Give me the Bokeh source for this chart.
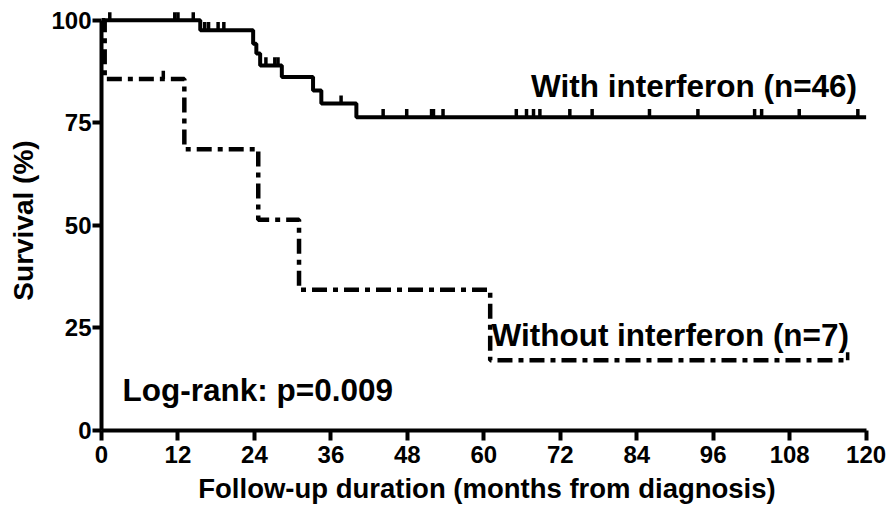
import numpy as np
from bokeh.plotting import figure
from bokeh.models import Range1d, FixedTicker
from bokeh.core.properties import value
from bokeh.embed import file_html
from bokeh.resources import INLINE

# ---- data ----
# With interferon (n=46): step times (months) and survival (%) after each event
with_t = [0, 15.5, 23.8, 24.3, 24.9, 28.3, 33.2, 34.5, 40.0, 120.0]
with_s = [100, 97.6, 94.3, 91.9, 89.0, 86.2, 82.9, 79.7, 76.4, 76.4]
with_censor = [1.3, 11.5, 12.0, 14.4, 16.2, 16.8, 18.3, 19.2, 25.8, 27.2, 27.7,
               37.6, 44.2, 47.9, 51.8, 52.1, 53.6, 65.1, 66.7, 67.8, 68.8, 73.5,
               77.0, 86.0, 93.6, 102.5, 103.6, 109.5, 118.7]

# Without interferon (n=7)
without_t = [0, 0.5, 13.0, 24.6, 31.0, 61.0, 117.1]
without_s = [100, 85.7, 68.6, 51.4, 34.3, 17.1, 17.1]
without_censor = [9.7, 117.1]

x_ticks = [0, 12, 24, 36, 48, 60, 72, 84, 96, 108, 120]
y_ticks = [0, 25, 50, 75, 100]

x_title = "Follow-up duration (months from diagnosis)"
y_title = "Survival (%)"
label_with = "With interferon (n=46)"
label_without = "Without interferon (n=7)"
label_logrank = "Log-rank: p=0.009"


def surv_at(times, surv, t):
    times = np.asarray(times)
    surv = np.asarray(surv)
    idx = np.searchsorted(times, t, side="right") - 1
    return surv[idx]


FONT = "Liberation Sans"

p = figure(width=886, height=509, output_backend="svg", toolbar_location=None,
           x_range=Range1d(0, 121), y_range=Range1d(0, 102.4),
           min_border_left=101, min_border_right=14, min_border_top=10,
           min_border_bottom=79)
p.outline_line_color = None
p.xgrid.visible = False
p.ygrid.visible = False
p.background_fill_color = "white"
p.border_fill_color = "white"

# curves
p.step(with_t, with_s, mode="after", line_color="black", line_width=4)
p.step(without_t, without_s, mode="after", line_color="black", line_width=4.5,
       line_dash="15 6 5 6")

# censor marks
wc = np.array(with_censor)
ws = surv_at(with_t, with_s, wc)
p.segment(x0=wc, y0=ws, x1=wc, y1=ws + 2.0, line_color="black", line_width=3.5)
oc = np.array(without_censor)
os_ = surv_at(without_t, without_s, oc)
p.segment(x0=oc, y0=os_, x1=oc, y1=os_ + 2.0, line_color="black", line_width=3.5)

# annotations
for tx, ty, tt in ((67.4, 84.1, label_with), (61.2, 23.2, label_without),
                   (3.3, 9.8, label_logrank)):
    p.text(x=[tx], y=[ty], text=[tt], text_font=value(FONT),
           text_font_style="bold", text_font_size="31.5px", text_color="black",
           text_baseline="alphabetic", text_align="left")

# axes
for ax in (p.xaxis[0], p.yaxis[0]):
    ax.axis_line_width = 4
    ax.axis_line_color = "black"
    ax.major_tick_line_width = 4
    ax.major_tick_line_color = "black"
    ax.major_tick_in = 0
    ax.minor_tick_line_color = None
    ax.major_label_text_font = FONT
    ax.major_label_text_font_style = "bold"
    ax.major_label_text_font_size = "24px"
    ax.major_label_text_color = "black"
    ax.axis_label_text_font = FONT
    ax.axis_label_text_font_style = "bold"
    ax.axis_label_text_color = "black"

p.xaxis.axis_label_text_font_size = "27.5px"
p.yaxis.axis_label_text_font_size = "28px"
p.xaxis.major_tick_out = 10
p.xaxis.major_label_standoff = 5
p.xaxis.axis_label_standoff = 7
p.yaxis.major_tick_out = 9
p.yaxis.major_label_standoff = 1
p.yaxis.axis_label_standoff = 9

p.xaxis.ticker = FixedTicker(ticks=x_ticks)
p.yaxis.ticker = FixedTicker(ticks=y_ticks)
p.xaxis.bounds = (0, 120)
p.yaxis.bounds = (0, 100)
p.xaxis.axis_label = x_title
p.yaxis.axis_label = y_title

open("out.html", "w").write(file_html(p, INLINE))
